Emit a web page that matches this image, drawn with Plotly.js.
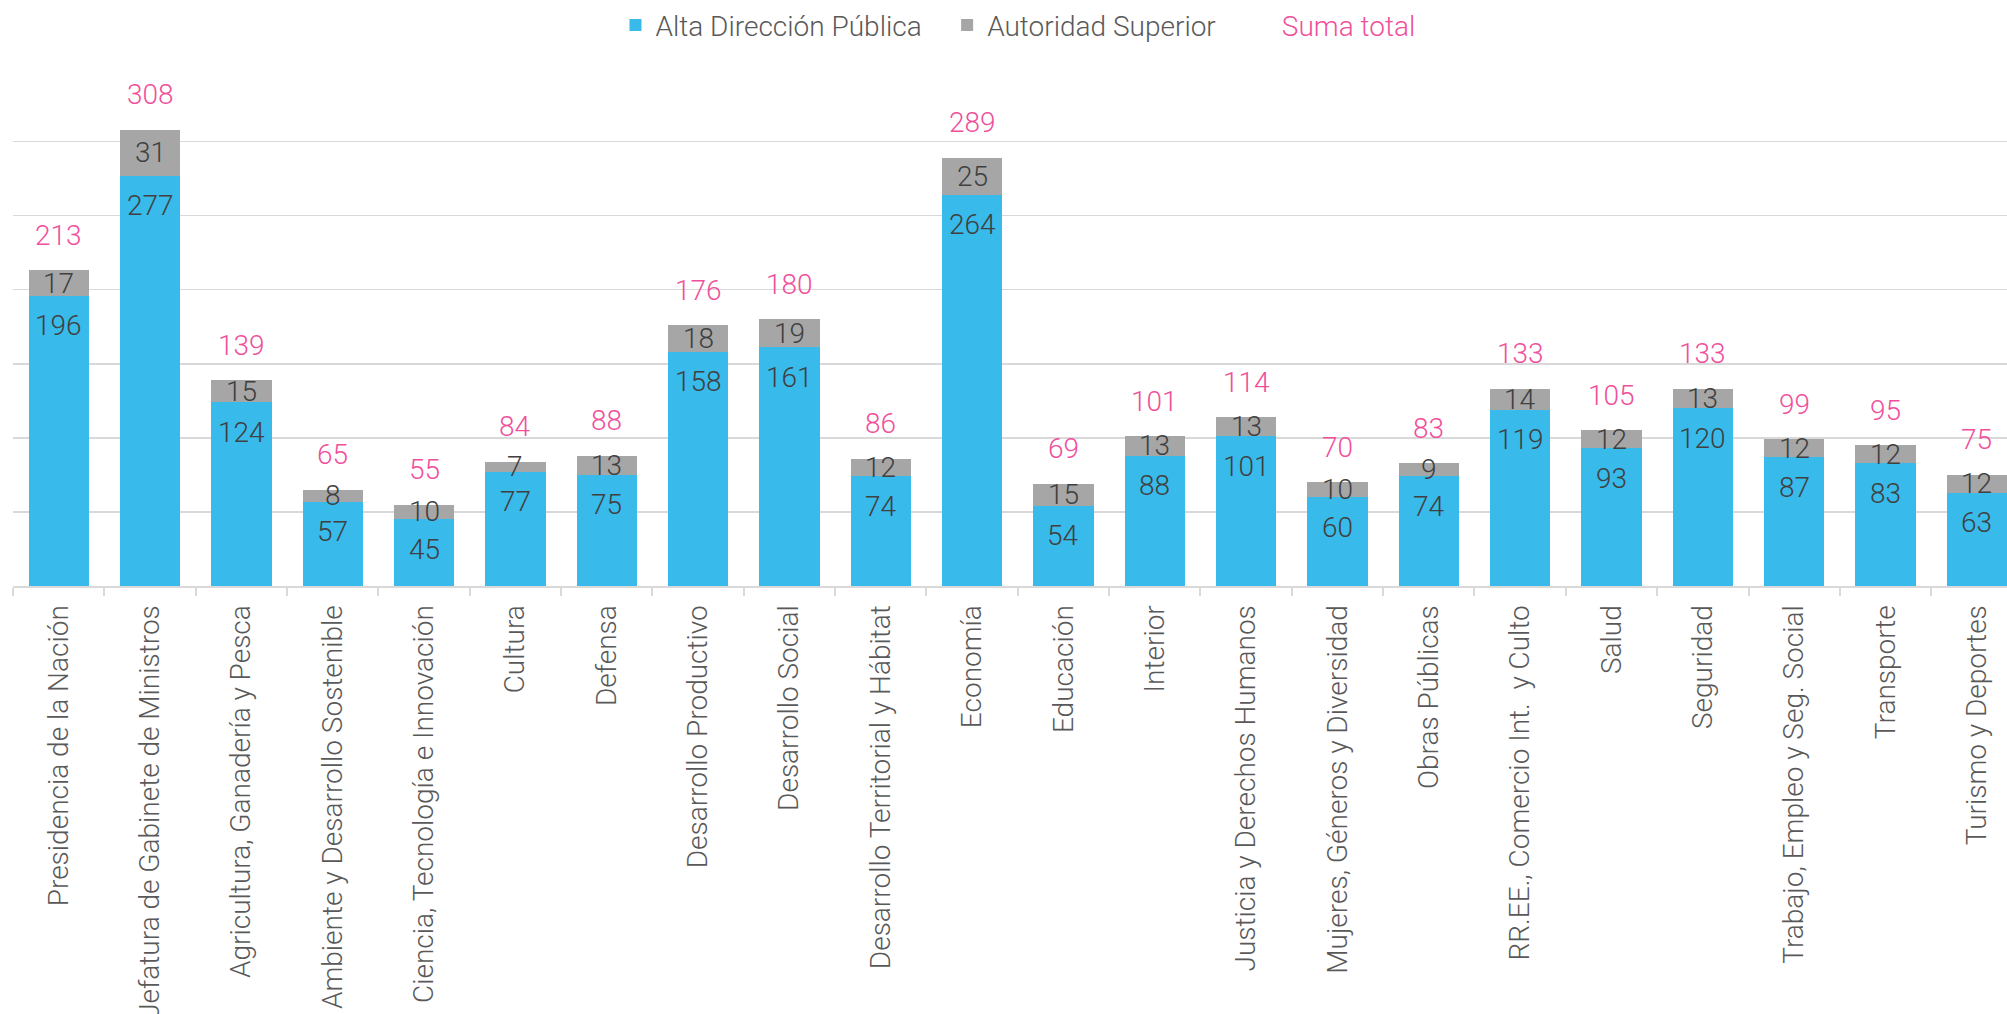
<!DOCTYPE html>
<html>
<head>
<meta charset="utf-8">
<script src="https://cdn.plot.ly/plotly-3.0.1.min.js"></script>
<style>html,body{margin:0;padding:0;background:#fff;overflow:hidden}#chart{width:2007px;height:1014px}</style>
</head>
<body>
<div id="chart"></div>
<script>
const categories = [
  "Presidencia de la Nación",
  "Jefatura de Gabinete de Ministros",
  "Agricultura, Ganadería y Pesca",
  "Ambiente y Desarrollo Sostenible",
  "Ciencia, Tecnología e Innovación",
  "Cultura",
  "Defensa",
  "Desarrollo Productivo",
  "Desarrollo Social",
  "Desarrollo Territorial y Hábitat",
  "Economía",
  "Educación",
  "Interior",
  "Justicia y Derechos Humanos",
  "Mujeres, Géneros y Diversidad",
  "Obras Públicas",
  "RR.EE., Comercio Int.  y Culto",
  "Salud",
  "Seguridad",
  "Trabajo, Empleo y Seg. Social",
  "Transporte",
  "Turismo y Deportes"
];
const altaDireccion = [196, 277, 124, 57, 45, 77, 75, 158, 161, 74, 264, 54, 88, 101, 60, 74, 119, 93, 120, 87, 83, 63];
const autoridadSuperior = [17, 31, 15, 8, 10, 7, 13, 18, 19, 12, 25, 15, 13, 13, 10, 9, 14, 12, 13, 12, 12, 12];
const sumaTotal = [213, 308, 139, 65, 55, 84, 88, 176, 180, 86, 289, 69, 101, 114, 70, 83, 133, 105, 133, 99, 95, 75];
const gridVals = [0, 50, 100, 150, 200, 250, 300];

const BLUE = "#38baeb", GRAY = "#a6a6a6", PINK = "#f0509b";
const FONT = "Roboto, 'Open Sans', sans-serif";
const FS = 28;

const traces = [
  {type: "bar", name: "Alta Dirección Pública&nbsp;&nbsp;&nbsp;", x: categories, y: altaDireccion,
   marker: {color: BLUE, line: {width: 0}}, hoverinfo: "skip"},
  {type: "bar", name: "Autoridad Superior", x: categories, y: autoridadSuperior,
   marker: {color: GRAY, line: {width: 0}}, hoverinfo: "skip"},
  {type: "scatter", mode: "lines", name: '&nbsp;&nbsp;&nbsp;<span style="color:' + PINK + '">Suma total</span>',
   x: categories, y: sumaTotal, line: {width: 0, color: "rgba(0,0,0,0)"}, hoverinfo: "skip"}
];

const annotations = [];
categories.forEach((c, i) => {
  annotations.push({x: c, y: altaDireccion[i], xref: "x", yref: "y", yshift: -30, yanchor: "middle",
    text: String(altaDireccion[i]), showarrow: false, font: {family: FONT, size: FS, color: "#404040", weight: 300}});
  annotations.push({x: c, y: altaDireccion[i] + autoridadSuperior[i] / 2, xref: "x", yref: "y", yanchor: "middle",
    text: String(autoridadSuperior[i]), showarrow: false, font: {family: FONT, size: FS, color: "#404040", weight: 300}});
  annotations.push({x: c, y: sumaTotal[i], xref: "x", yref: "y", yshift: 35, yanchor: "middle",
    text: String(sumaTotal[i]), showarrow: false, font: {family: FONT, size: FS, color: PINK, weight: 300}});
});

const layout = {
  width: 2007, height: 1014,
  margin: {l: 13, r: 0, t: 52, b: 428, pad: 0},
  paper_bgcolor: "#fff", plot_bgcolor: "#fff",
  barmode: "stack", bargap: 0.34,
  hovermode: false,
  font: {family: FONT, size: FS, color: "#595959", weight: 300},
  showlegend: true,
  legend: {orientation: "h", x: 0.504, xanchor: "center", y: 1.05, yanchor: "middle",
           traceorder: "normal", font: {family: FONT, size: 28, color: "#595959", weight: 300},
           itemwidth: 30, bgcolor: "rgba(0,0,0,0)"},
  xaxis: {type: "category", range: [-0.5, 21.33], tickson: "boundaries", ticks: "outside", ticklen: 8,
          tickcolor: "#d9d9d9", tickwidth: 2, showline: true, linecolor: "#d9d9d9", linewidth: 2,
          showgrid: false, tickangle: -90, ticklabelstandoff: 6,
          tickfont: {family: FONT, size: 28, color: "#595959", weight: 300},
          fixedrange: true, automargin: false},
  yaxis: {range: [0, 360.4], tickmode: "array", tickvals: gridVals, showticklabels: false,
          showgrid: true, gridcolor: "#d9d9d9", gridwidth: 1.5, zeroline: false, showline: false,
          ticks: "", fixedrange: true, automargin: false},
  annotations: annotations
};

Plotly.newPlot("chart", traces, layout, {displayModeBar: false, staticPlot: true});
</script>
</body>
</html>
